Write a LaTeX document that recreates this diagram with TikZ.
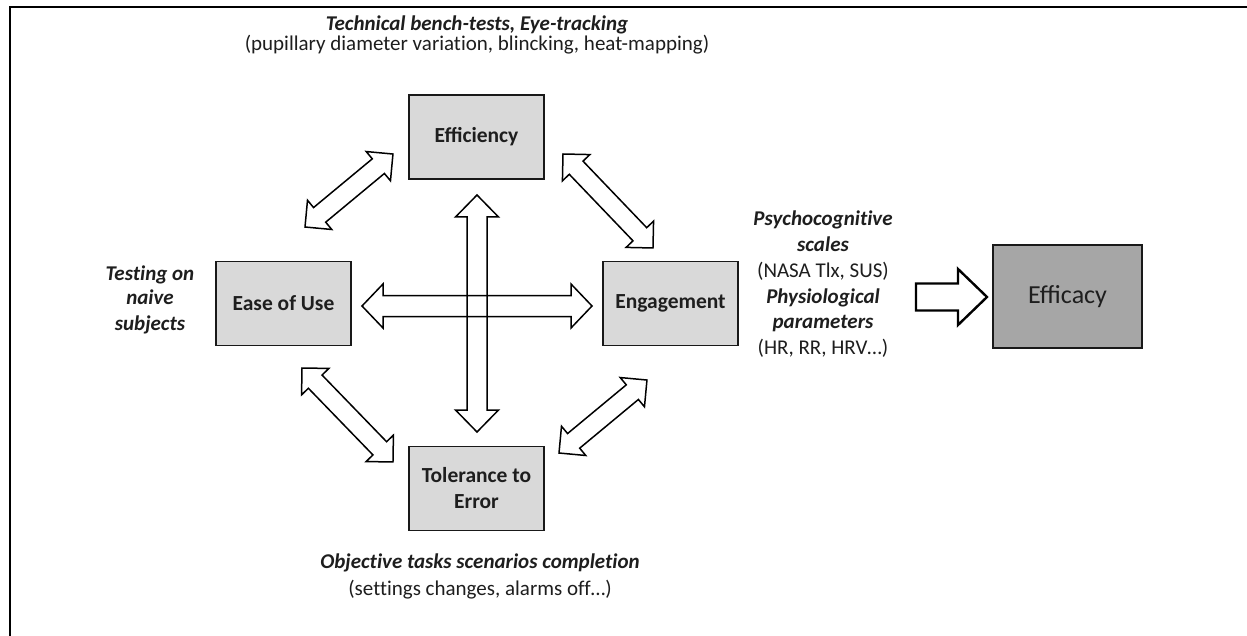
\documentclass[tikz,border=0pt]{standalone}
\usepackage{fontspec}
\setmainfont{Carlito}
\newfontfamily\notefont[Ligatures=NoCommon]{Carlito}
\usetikzlibrary{calc}
\definecolor{boxgray}{RGB}{217,217,217}
\definecolor{effgray}{RGB}{166,166,166}
\definecolor{txt}{RGB}{30,30,30}
\newcommand\dblarr[6]{% style, from, to, head length, head half-width, shaft half-width
  \path[#1] let \p1=(#2), \p2=(#3), \n1={atan2(\y2-\y1,\x2-\x1)}, \n2={veclen(\x2-\x1,\y2-\y1)} in
   [shift={(\p1)}, rotate=\n1] (0,0) -- (#4,-#5) -- (#4,-#6) -- (\n2-#4,-#6) -- (\n2-#4,-#5) -- (\n2,0)
   -- (\n2-#4,#5) -- (\n2-#4,#6) -- (#4,#6) -- (#4,#5) -- cycle;}
\begin{document}
\begin{tikzpicture}[x=1pt,y=-1pt,
  box/.style={draw=black!90, line width=1.6pt, fill=boxgray, minimum width=135pt, minimum height=84pt,
    inner sep=0pt, align=center, text=txt, font=\fontsize{21.5}{26}\selectfont\bfseries},
  effbox/.style={draw=black!90, line width=2.6pt, fill=effgray, minimum width=149pt, minimum height=103pt,
    inner sep=0pt, text=txt, font=\fontsize{26}{30}\selectfont},
  note/.style={anchor=base, inner sep=0pt, text=txt, font=\notefont\fontsize{21}{24}\selectfont},
  notebi/.style={note, font=\notefont\fontsize{21}{24}\selectfont\bfseries\itshape},
  blockarr/.style={draw=black, line width=1.5pt, fill=white, line join=miter},
  arrfill/.style={fill=white},
  arrline/.style={draw=black, line width=1.5pt, line join=miter},
  effarr/.style={draw=black, line width=2.4pt, fill=white, line join=miter}]
\useasboundingbox (0,0) rectangle (1247,636);
\fill[white] (0,0) rectangle (1247,636);
% frame
\coordinate (fa) at (10,636);
\coordinate (fb) at (10,7);
\coordinate (fc) at (1247,7);
\draw[line width=2.2pt] (fa) -- (fb) -- (fc);

% boxes
\node[box] (eff) at (476.5,137) {Efficiency};
\node[box] (ease) at (283.5,303.5) {Ease of Use};
\node[box] (eng) at (670.5,303.5) {Engagement};
\node[box] (tol) at (476.5,488.5) {Tolerance to\\Error};
\node[effbox] (efc) at (1067.5,296.5) {Efficacy};

% arrow end points
\coordinate (v1) at (477,195);
\coordinate (v2) at (477,432);
\coordinate (h1) at (362,306);
\coordinate (h2) at (592,306);
\coordinate (ul1) at (305,227);
\coordinate (ul2) at (393,154);
\coordinate (ur1) at (563,154);
\coordinate (ur2) at (653,248);
\coordinate (ll1) at (302,368);
\coordinate (ll2) at (393,462);
\coordinate (lr1) at (559,453);
\coordinate (lr2) at (647,380);

% crossing arrows: fills first, then both outlines
\dblarr{arrfill}{v1}{v2}{22}{21.5}{10}
\dblarr{arrfill}{h1}{h2}{21}{22}{10.5}
\dblarr{arrline}{v1}{v2}{22}{21.5}{10}
\dblarr{arrline}{h1}{h2}{21}{22}{10.5}
% diagonal arrows
\dblarr{blockarr}{ul1}{ul2}{19}{19}{9.5}
\dblarr{blockarr}{ur1}{ur2}{19}{19}{9.5}
\dblarr{blockarr}{ll1}{ll2}{19}{19}{9.5}
\dblarr{blockarr}{lr1}{lr2}{19}{19}{9.5}

% arrow to Efficacy
\coordinate (ea1) at (916,297);
\coordinate (ea2) at (987,297);
\draw[effarr] let \p1=(ea1), \p2=(ea2) in
  (\x1,-283.5pt) -- (958pt,-283.5pt) -- (958pt,-269pt) -- (\p2) -- (958pt,-325pt) -- (958pt,-310.5pt) -- (\x1,-310.5pt) -- cycle;

% annotations
\node[notebi] (t1) at (477,31) {Technical bench-tests, Eye-tracking};
\node[note] (t2) at (477,51) {(pupillary diameter variation, blincking, heat-mapping)};

\node[notebi] (l1) at (150,280) {Testing on};
\node[notebi] (l2) at (150,305) {naive};
\node[notebi] (l3) at (150,330) {subjects};

\node[notebi] (r1) at (823,226) {Psychocognitive};
\node[notebi] (r2) at (823,252) {scales};
\node[note] (r3) at (823,277) {(NASA Tlx, SUS)};
\node[notebi] (r4) at (823,303) {Physiological};
\node[notebi] (r5) at (823,328) {parameters};
\node[note] (r6) at (823,354) {(HR, RR, HRV\dots)};

\node[notebi] (b1) at (480,568) {Objective tasks scenarios completion};
\node[note] (b2) at (480,595) {(settings changes, alarms off\dots)};
\end{tikzpicture}
\end{document}
